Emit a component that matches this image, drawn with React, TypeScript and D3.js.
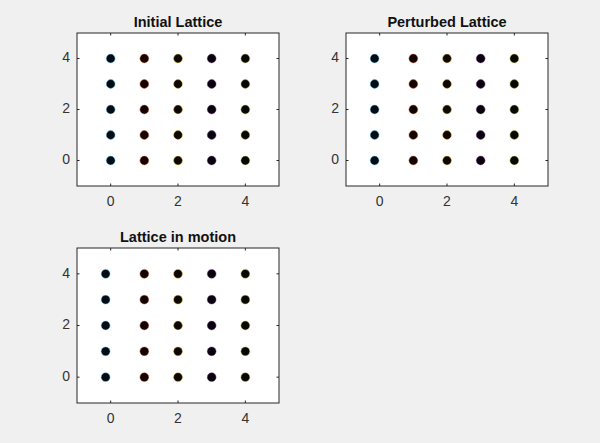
import { useEffect, useRef } from 'react';
import * as d3 from 'd3';

// Lattice columns (x positions per column) and rows (y positions) per panel
const TITLES = ['Initial Lattice', 'Perturbed Lattice', 'Lattice in motion'];
const COLS_X = [
  [0, 1, 2, 3, 4],
  [-0.15, 1, 2, 3, 4],
  [-0.15, 1, 2, 3, 4],
];
const ROWS_Y = [
  [0, 1, 2, 3, 4],
  [0, 1, 2, 3, 4],
  [0, 1, 2, 3, 4],
];
const TICKS = [0, 2, 4];
const EDGE_COLORS = ['#4DBEEE', '#D95319', '#EDB120', '#7E2F8E', '#B5B040'];
const FACE_COLORS = ['#020a12', '#100302', '#0a0800', '#06020a', '#070802'];

// axes boxes [left, top, right, bottom] in pixels
const BOXES = [
  [77, 33, 279, 186],
  [346, 33, 548, 186],
  [77, 248, 279, 403],
];

export default function App() {
  const svgRef = useRef<SVGSVGElement>(null);

  useEffect(() => {
    if (!svgRef.current) return;
    const svg = d3.select(svgRef.current);
    svg.selectAll('*').remove();

    svg.append('rect').attr('width', 600).attr('height', 443).attr('fill', '#f0f0f0');

    BOXES.forEach(([l, t, r, b], p) => {
      const x = d3.scaleLinear().domain([-1, 5]).range([l, r]);
      const y = d3.scaleLinear().domain([-1, 5]).range([b, t]);
      const g = svg.append('g');

      g.append('rect')
        .attr('x', l).attr('y', t).attr('width', r - l).attr('height', b - t)
        .attr('fill', '#ffffff');

      // dots
      const pts: { cx: number; cy: number; c: number }[] = [];
      COLS_X[p].forEach((cx, c) => ROWS_Y[p].forEach(cy => pts.push({ cx, cy, c })));
      g.selectAll('circle')
        .data(pts)
        .join('circle')
        .attr('cx', d => x(d.cx))
        .attr('cy', d => y(d.cy))
        .attr('r', 4.4)
        .attr('fill', d => FACE_COLORS[d.c])
        .attr('stroke', d => EDGE_COLORS[d.c])
        .attr('stroke-opacity', 0.55)
        .attr('stroke-width', 0.8);

      // ticks inside, on all four sides
      const tk = 2.5;
      TICKS.forEach(v => {
        g.append('line').attr('x1', x(v)).attr('x2', x(v)).attr('y1', b).attr('y2', b - tk).attr('stroke', '#262626');
        g.append('line').attr('x1', x(v)).attr('x2', x(v)).attr('y1', t).attr('y2', t + tk).attr('stroke', '#262626');
        g.append('line').attr('y1', y(v)).attr('y2', y(v)).attr('x1', l).attr('x2', l + tk).attr('stroke', '#262626');
        g.append('line').attr('y1', y(v)).attr('y2', y(v)).attr('x1', r).attr('x2', r - tk).attr('stroke', '#262626');

        g.append('text')
          .attr('x', x(v)).attr('y', b + 16)
          .attr('dominant-baseline', 'middle')
          .attr('text-anchor', 'middle')
          .attr('font-family', 'Liberation Sans, Arial, sans-serif')
          .attr('font-size', 14)
          .attr('fill', '#333')
          .text(v);
        g.append('text')
          .attr('x', l - 7).attr('y', y(v))
          .attr('dominant-baseline', 'middle')
          .attr('text-anchor', 'end')
          .attr('font-family', 'Liberation Sans, Arial, sans-serif')
          .attr('font-size', 14)
          .attr('fill', '#333')
          .text(v);
      });

      g.append('rect')
        .attr('x', l).attr('y', t).attr('width', r - l).attr('height', b - t)
        .attr('fill', 'none').attr('stroke', '#262626').attr('stroke-width', 1);

      g.append('text')
        .attr('x', (l + r) / 2).attr('y', t - 10)
        .attr('text-anchor', 'middle')
        .attr('dominant-baseline', 'middle')
        .attr('font-family', 'Liberation Sans, Arial, sans-serif')
        .attr('font-weight', 'bold')
        .attr('font-size', 14.5)
        .attr('fill', '#111')
        .text(TITLES[p]);
    });
  }, []);

  return (
    <svg
      ref={svgRef}
      width={600}
      height={443}
      style={{ position: 'absolute', left: 0, top: 0, display: 'block' }}
    />
  );
}
